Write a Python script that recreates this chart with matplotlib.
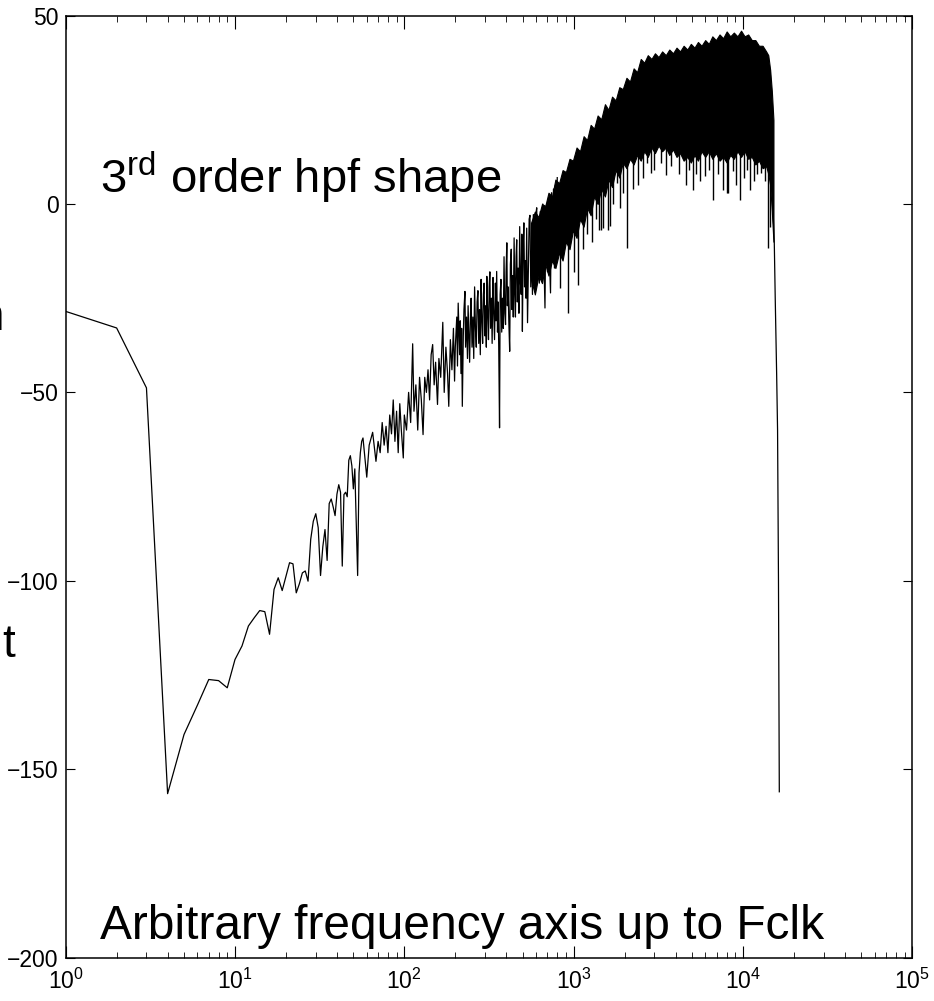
import matplotlib
matplotlib.use('Agg')
import matplotlib.pyplot as plt

plt.rcParams['font.family'] = ['Liberation Sans Narrow', 'Liberation Sans', 'DejaVu Sans']
plt.rcParams['mathtext.default'] = 'regular'

# low frequency part, one point per bin
low_freq = [1, 2, 3, 4, 5, 6, 7, 8, 9, 10, 11, 12, 13, 14, 15, 16, 17, 18, 19, 20,
            21, 22, 23, 24, 25, 26, 27, 28, 29, 30, 31, 32, 33, 34, 35, 36, 37, 38, 39, 40,
            41, 42, 43, 44, 45, 46, 47, 48, 49, 50, 51, 52, 53, 54, 55, 56, 57]
low_db = [-28.5, -32.9, -48.8, -156.5, -140.8, -133, -126.2, -126.5, -128.4, -120.9,
          -117.3, -112, -109.8, -107.9, -108.2, -114.2, -102.3, -99.2, -102.6, -98.8,
          -95.2, -95.5, -103.2, -100.8, -97.9, -97.4, -100.1, -89, -84.2, -82.2,
          -85.9, -98.6, -91, -86.4, -94.6, -79.5, -78.3, -80.4, -82.7, -77,
          -74.5, -76.5, -96.1, -77.1, -76.5, -77.7, -68, -66.8, -69.5, -75.6,
          -70.3, -85, -98.6, -71.4, -66, -63, -62.1]

# mid part, peaks and troughs of the trace
mid_freq = [60, 62, 65, 68, 70, 72, 74, 76, 78, 80, 82, 84, 86, 88, 90, 92, 94, 96, 98.6, 100,
            103, 106, 109, 112, 114, 117, 120, 123, 126, 129, 132, 135, 138, 141, 144, 147,
            150, 153, 157, 160, 164, 168.7, 172, 176, 180, 183, 187, 191, 195, 198, 200, 204,
            206, 208, 212, 214, 216, 218, 220, 223, 225, 228, 230, 233, 236, 238, 241, 243,
            246, 248, 251, 254, 257, 260, 263, 266, 269, 272, 275, 278, 281, 284, 287, 290,
            293, 296, 299, 302, 305, 307, 311, 314, 317, 320, 323, 327, 330, 334, 337, 341,
            345, 348, 351, 355, 358, 361, 365, 368, 372, 376, 380, 384, 388, 392, 396, 399,
            403, 406, 410, 414, 419, 423, 428, 432, 436, 440, 445, 449, 453, 457, 461, 465,
            470, 475, 480, 485, 490, 494, 498, 503, 508, 513, 518, 523, 528, 534, 540, 546,
            552, 558, 565, 571, 578, 584, 590, 597, 605, 612, 620, 627, 635, 642, 650, 657,
            665, 677, 685, 693, 700, 710, 720, 730, 740, 750, 760, 770, 780, 790, 800]
mid_db = [-72.5, -64, -60.6, -68.3, -63, -66, -58, -64, -59, -66, -56, -61, -52, -63, -55, -66,
          -53, -60, -67.4, -56, -60, -50, -58, -37.1, -55, -48, -60, -46, -52, -61.2, -46, -50,
          -44, -52, -40, -37.3,
          -48, -42, -53.2, -41, -46, -31.4, -50, -38, -45, -53.7, -36, -44, -33, -47, -38, -30,
          -43, -26.3, -40, -31, -45, -33, -53.7, -35, -28, -23.2, -38, -30, -41, -27, -36, -42,
          -29, -25, -38, -30, -41, -22, -33, -38, -26, -23, -37, -28, -40, -20, -31, -37,
          -24, -21, -35, -27, -38, -19.2, -30, -36, -22, -18, -33, -25, -37, -19.5, -28, -36,
          -21, -31, -17.9, -34, -26, -38, -59.4, -24, -20, -34, -25, -33, -14, -29, -32, -18,
          -10.3, -27, -22, -31, -39.1, -16, -12, -28, -19, -30, -9, -24, -30, -14, -9.5, -26,
          -17, -29, -6, -21, -24, -8, -33.8, -12, -5, -22, -15, -25, -6.4, -31.5, -18, -4,
          -3, -22, -12, -24, -2.8, -16, -20, -3, -1, -17, -11, -21, -2, -15, -19, 0,
          -12, -27.6, -3, -0.2, -18, 1, -15, -23.6, 3, -14, 4, -17, 5, -12, 7]

# dense band near the top: upper and lower edge of the solid region
band_freq = [560, 590, 620, 650, 680, 710, 745, 780, 820, 860, 900, 945, 990, 1040, 1090,
             1145, 1200, 1260, 1320, 1385, 1455, 1530, 1605, 1685, 1770, 1860, 1950, 2050,
             2150, 2260, 2370, 2490, 2610, 2740, 2880, 3020, 3170, 3330, 3500, 3670, 3860,
             4050, 4250, 4460, 4690, 4920, 5170, 5420, 5690, 5980, 6280, 6590, 6920, 7270,
             7630, 8010, 8410, 8830, 9270, 9740, 10220, 10730, 11270, 11830, 12420, 13050,
             13700, 14100, 14470, 14800, 15130]
band_hi = [-5, -2, -3.5, 0, -0.5, 3, 2, 6.5, 5.5, 9, 8.5, 12, 11.5, 15, 14, 18, 17, 21, 20,
           23.5, 22.5, 26.5, 25, 28.5, 27.5, 31, 30.5, 33.5, 32.5, 36, 35, 38.5, 37.5, 39.5,
           38.5, 40, 39, 40.5, 39.5, 41, 40, 41.5, 40.5, 42, 41, 42.5, 41.5, 43, 42, 43.5,
           42.5, 44.5, 43.5, 45, 44, 45.8, 44.5, 45.5, 44.5, 46, 44.5, 45, 43.5, 43.5, 42, 42,
           40.5, 39.5, 35.6, 30, 22.3]
band_lo = [-20, -24, -19, -21, -16, -19, -15, -17, -13, -15, -10, -12, -7, -9, -4, -6, -1,
           -3, 2, 0, 4, 2, 6.5, 4.5, 9, 7, 11, 9.5, 12, 10.5, 13, 11.5, 14, 12.5, 15, 13.5,
           15.5, 14, 15, 13, 14.5, 12.5, 13.5, 11.5, 12.5, 11, 13, 11.5, 14, 12.5, 14, 12,
           13.5, 11.5, 12.5, 11, 13, 12, 14, 12.5, 14, 12, 12.5, 10.5, 11.5, 9.5, 10, 8, 5,
           -2, -10]

# downward spikes below the band: base and tip
spike_freq = [830, 930, 1000, 1060, 1130, 1200, 1280, 1350, 1420, 1460, 1490, 1600, 1640,
              1700, 1800, 1880, 1950, 2060, 2250, 2400, 2550, 2700, 2850, 3000, 3300, 3520,
              3750, 4200, 4600, 4800, 5050, 5300, 5600, 5950, 6300, 6630, 7100, 7570, 8000,
              8200, 8700, 9100, 9540, 10150, 10600, 11000, 11600, 12100, 12800, 13400, 13960,
              14400]
spike_top = [-10, -8, -4, -5, -2, 2, 1, 4, 5, 6, 6, 9, 9, 9, 11, 11, 13, 13, 14, 15, 15,
             16, 17, 17, 17, 17, 17, 16, 15, 15, 15, 15, 16, 16, 16, 15, 15, 15, 14, 15, 15,
             16, 16, 16, 15, 15, 14, 13, 13, 12, 11, 8]
spike_db = [-22.3, -28.9, -18, -21.4, -12, -8, -10, -4, -7, -6.8, -6.4, -7, -5.9, 0, 5.6,
            -1, 3, -11.7, 4, 5, 7, 11, 8.3, 9, 11, 7.8, 10, 8, 5, 9, 3.8, 8, 6, 7.3, 9, 1.1,
            8, 3.8, 3.0, 3.0, 8.8, 5, 1.1, 6.9, 9, 3.8, 6, 8, 8.3, 6, -11.7, -6]

# roll-off at the clock edge
edge_freq = [14470, 15000, 15300, 15500, 15800, 16000, 16200, 16384]
edge_db = [35.6, 0, -10, -25, -45, -60, -100, -156]

fig = plt.figure(figsize=(9.34, 10.01), dpi=100)
ax = fig.add_axes([0.0703, 0.0434, 0.9065, 0.941])

ax.semilogx(low_freq + mid_freq, low_db + mid_db, color='black', lw=0.9)
ax.fill_between(band_freq, band_lo, band_hi, color='black', lw=0.8)
ax.vlines(spike_freq, spike_db, spike_top, color='black', lw=1.0)
ax.plot(edge_freq, edge_db, color='black', lw=0.9)

ax.set_xlim(1, 1e5)
ax.set_ylim(-200, 50)
ax.set_yticks(range(-200, 51, 50))
ax.set_xticks([1, 10, 100, 1000, 10000, 100000])
ax.set_xticklabels([r'$10^{%d}$' % i for i in range(6)])
ax.tick_params(which='both', direction='in', top=True, right=True, labelsize=16.5)
ax.tick_params(axis='x', which='major', length=9, pad=8)
ax.tick_params(axis='x', which='minor', length=4.5)
ax.tick_params(axis='y', which='major', length=6.5, pad=5)
for s in ax.spines.values():
    s.set_linewidth(1.1)

big = ['Liberation Sans', 'DejaVu Sans']
ax.text(0.0405, 0.812, r'3$^{rd}$ order hpf shape', transform=ax.transAxes,
        fontsize=34, family=big)
ax.text(0.0405, 0.02, 'Arbitrary frequency axis up to Fclk', transform=ax.transAxes,
        fontsize=34.5, family=big)

# pieces of a label cut by the left edge
fig.text(3.5 / 934, 1 - 330 / 1001, 'n', ha='right', fontsize=33, family=big)
fig.text(15 / 934, 1 - 657 / 1001, 't', ha='right', fontsize=33, family=big)

fig.savefig('out.png', dpi=100)
